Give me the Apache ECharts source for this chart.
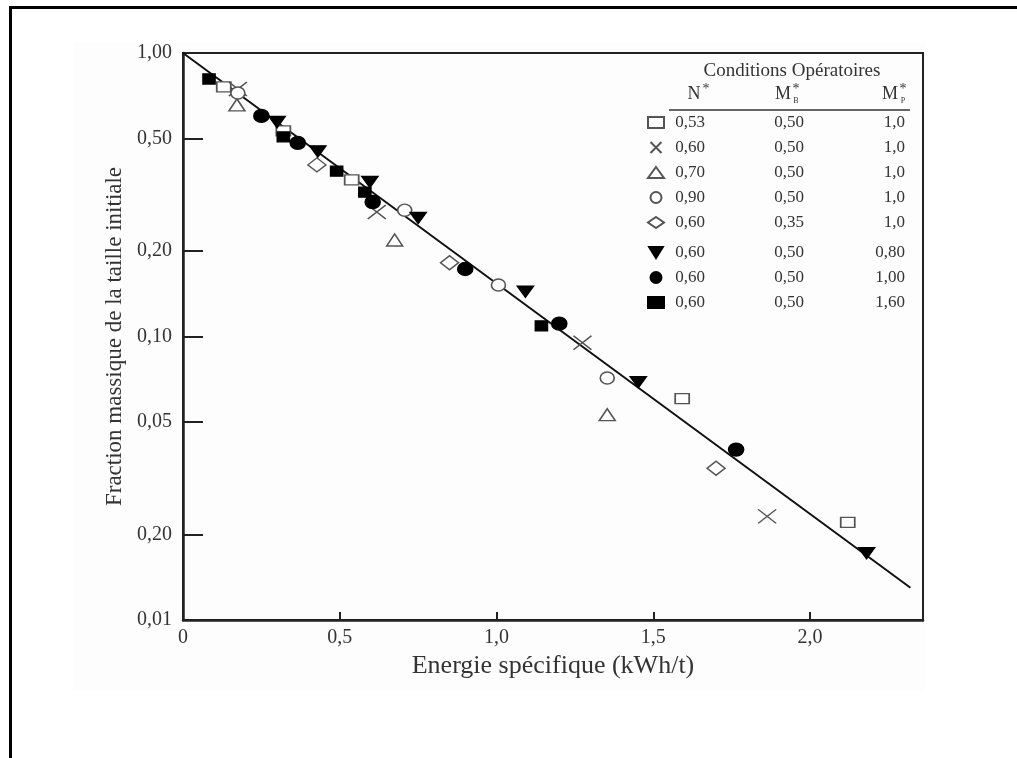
<!DOCTYPE html>
<html>
<head>
<meta charset="utf-8">
<script src="https://cdn.jsdelivr.net/npm/echarts@6/dist/echarts.min.js"></script>
<style>
  html, body { margin: 0; padding: 0; background: #fff; }
  #chart { width: 1017px; height: 758px; }
</style>
</head>
<body>
<div id="chart"></div>
<script>
// axes
var xTickValues = [0, 0.5, 1, 1.5, 2];
var xTickLabels = ["0", "0,5", "1,0", "1,5", "2,0"];
var yTickValues = [0.01, 0.02, 0.05, 0.1, 0.2, 0.5, 1];
var yTickLabels = ["0,01", "0,20", "0,05", "0,10", "0,20", "0,50", "1,00"];

// conditions opératoires (legend table)
var nStar = ["0,53", "0,60", "0,70", "0,90", "0,60", "0,60", "0,60", "0,60"];
var mbStar = ["0,50", "0,50", "0,50", "0,50", "0,35", "0,50", "0,50", "0,50"];
var mpStar = ["1,0", "1,0", "1,0", "1,0", "1,0", "0,80", "1,00", "1,60"];

// points [energie, fraction]
var ptsSquareOpen = [[0.13, 0.76], [0.32, 0.531], [0.538, 0.357], [1.592, 0.0604], [2.12, 0.0221]];
var ptsCross = [[0.175, 0.746], [0.618, 0.275], [1.274, 0.095], [1.863, 0.0232]];
var ptsTriangleOpen = [[0.172, 0.656], [0.675, 0.219], [1.353, 0.053]];
var ptsCircleOpen = [[0.175, 0.723], [0.707, 0.279], [1.006, 0.152], [1.353, 0.0714]];
var ptsDiamondOpen = [[0.427, 0.403], [0.85, 0.182], [1.70, 0.0343]];
var ptsTriangleDown = [[0.30, 0.571], [0.43, 0.45], [0.596, 0.351], [0.75, 0.262], [1.092, 0.144], [1.452, 0.069], [2.18, 0.0172]];
var ptsCircleFull = [[0.25, 0.60], [0.366, 0.482], [0.605, 0.298], [0.90, 0.173], [1.20, 0.111], [1.764, 0.0399]];
var ptsSquareFull = [[0.083, 0.81], [0.32, 0.506], [0.49, 0.383], [0.58, 0.323], [1.143, 0.109]];

// droite de régression
var fitLine = [[0, 1.0], [2.32, 0.013]];

var allPts = [ptsSquareOpen, ptsCross, ptsTriangleOpen, ptsCircleOpen, ptsDiamondOpen,
  ptsTriangleDown, ptsCircleFull, ptsSquareFull];

var seriesNames = nStar.map(function (n, i) {
  return "N* " + n + " / MB* " + mbStar[i] + " / MP* " + mpStar[i];
});

var FONT = "'Liberation Serif', 'Times New Roman', serif";
var ELLIPSE = "path://M0,50A50,50,0,1,1,100,50A50,50,0,1,1,0,50Z";

// marker looks
var markers = [
  { symbol: "rect", size: [14, 10], fill: "#fff", stroke: "#555" },
  { symbol: "path://M0,0L10,10M10,0L0,10", size: [18, 14], fill: "rgba(0,0,0,0)", stroke: "#555" },
  { symbol: "triangle", size: [16, 12], fill: "#fff", stroke: "#555" },
  { symbol: ELLIPSE, size: [14, 12], fill: "#fff", stroke: "#555" },
  { symbol: "diamond", size: [18, 14], fill: "#fff", stroke: "#555" },
  { symbol: "path://M0,0L10,0L5,8Z", size: [16, 11], fill: "#000", stroke: "#000" },
  { symbol: ELLIPSE, size: [15, 13], fill: "#000", stroke: "#000" },
  { symbol: "rect", size: [12, 10], fill: "#000", stroke: "#000" }
];

var chart = echarts.init(document.getElementById("chart"));

var series = allPts.map(function (pts, i) {
  var m = markers[i];
  return {
    name: seriesNames[i],
    type: "scatter",
    data: pts,
    symbol: m.symbol,
    symbolSize: m.size,
    z: 3,
    itemStyle: { color: m.fill, borderColor: m.stroke, borderWidth: 1.5, opacity: 1 }
  };
});
series.unshift({
  name: "fit",
  type: "line",
  data: fitLine,
  symbol: "none",
  z: 2,
  lineStyle: { color: "#111", width: 2 }
});

function legendFormatter(name) {
  var i = seriesNames.indexOf(name);
  return "{a|" + nStar[i] + "}{b|" + mbStar[i] + "}{c|" + mpStar[i] + "}";
}
var legendText = {
  fontFamily: FONT,
  fontSize: 17,
  color: "#333",
  rich: {
    a: { width: 42, align: "right", fontFamily: FONT, fontSize: 17, color: "#333", lineHeight: 14 },
    b: { width: 156, align: "center", fontFamily: FONT, fontSize: 17, color: "#333", lineHeight: 14 },
    c: { width: 38, align: "right", fontFamily: FONT, fontSize: 17, color: "#333", lineHeight: 14 }
  }
};

function headText(x, y, text, size, align) {
  return {
    type: "text", x: x, y: y, z: 10,
    style: { text: text, font: size + "px " + FONT, fill: "#333", align: align || "center", verticalAlign: "middle" }
  };
}

var option = {
  animation: false,
  backgroundColor: "#fff",
  grid: {
    left: 183, top: 53, right: 94, bottom: 138,
    show: true, borderColor: "#222", borderWidth: 2, backgroundColor: "transparent"
  },
  xAxis: {
    type: "value",
    min: 0,
    max: 2.36,
    name: "Energie spécifique (kWh/t)",
    nameLocation: "middle",
    nameGap: 31,
    nameTextStyle: { fontFamily: FONT, fontSize: 26, color: "#333" },
    axisLine: { lineStyle: { color: "#222", width: 2.5 } },
    axisTick: { inside: true, length: 8, customValues: xTickValues, lineStyle: { color: "#222", width: 2 } },
    axisLabel: {
      customValues: xTickValues,
      fontFamily: FONT, fontSize: 20, color: "#333", margin: 8,
      formatter: function (v) {
        var i = xTickValues.indexOf(v);
        return i >= 0 ? xTickLabels[i] : "";
      }
    },
    splitLine: { show: false }
  },
  yAxis: {
    type: "log",
    logBase: 10,
    min: 0.01,
    max: 1,
    name: "Fraction massique de la taille initiale",
    nameLocation: "middle",
    nameGap: 51,
    nameTextStyle: { fontFamily: FONT, fontSize: 23, color: "#333" },
    axisLine: { lineStyle: { color: "#222", width: 2.5 } },
    axisTick: { inside: true, length: 20, customValues: yTickValues, lineStyle: { color: "#222", width: 2 } },
    axisLabel: {
      customValues: yTickValues,
      fontFamily: FONT, fontSize: 20, color: "#333", margin: 11,
      formatter: function (v) {
        for (var i = 0; i < yTickValues.length; i++) {
          if (Math.abs(v - yTickValues[i]) < 1e-9) return yTickLabels[i];
        }
        return "";
      }
    },
    splitLine: { show: false },
    minorTick: { show: false }
  },
  legend: [
    {
      data: seriesNames.slice(0, 5),
      orient: "vertical",
      left: 642, top: 109,
      itemWidth: 16, itemHeight: 11, itemGap: 8,
      selectedMode: false,
      formatter: legendFormatter,
      textStyle: legendText
    },
    {
      data: seriesNames.slice(5),
      orient: "vertical",
      left: 642, top: 239,
      itemWidth: 16, itemHeight: 11, itemGap: 8,
      selectedMode: false,
      formatter: legendFormatter,
      textStyle: legendText
    }
  ],
  graphic: [
    // fond gris très clair de la figure scannée
    { type: "rect", z: -10, shape: { x: 73, y: 43, width: 852, height: 647 }, style: { fill: "#fdfdfd" } },
    // cadre extérieur
    { type: "polyline", z: 10, shape: { points: [[10.5, 758], [10.5, 7.5], [1017, 7.5]] }, style: { stroke: "#000", lineWidth: 3, fill: null } },
    headText(792, 71, "Conditions Opératoires", 19),
    headText(694, 94, "N", 18),
    headText(706, 89, "*", 14),
    headText(783, 94, "M", 18),
    headText(796, 89, "*", 14),
    headText(796, 101, "B", 8),
    headText(890, 94, "M", 18),
    headText(903, 89, "*", 14),
    headText(903, 101, "P", 8),
    { type: "line", z: 10, shape: { x1: 669, y1: 110, x2: 910, y2: 110 }, style: { stroke: "#333", lineWidth: 1.5 } }
  ],
  series: series
};

chart.setOption(option);
</script>
</body>
</html>
